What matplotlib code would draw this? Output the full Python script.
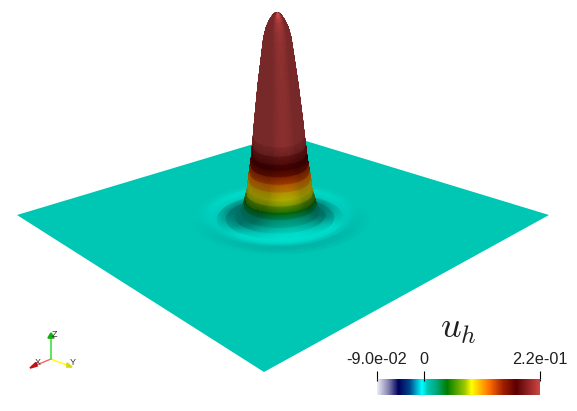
import numpy as np
import matplotlib
matplotlib.use('Agg')
import matplotlib.pyplot as plt
from matplotlib.colors import LinearSegmentedColormap
from matplotlib.patches import Polygon

plt.rcParams['font.family'] = ['Liberation Sans', 'DejaVu Sans']
plt.rcParams['mathtext.fontset'] = 'cm'

W, H = 577, 411

# radial profile (r = fraction of half diagonal)
ring_r = [0.0, 0.007, 0.013, 0.020, 0.028, 0.041, 0.051, 0.060, 0.075, 0.090, 0.096, 0.100, 0.103, 0.105,
          0.109, 0.113, 0.117, 0.120, 0.126, 0.132, 0.139, 0.150, 0.170, 0.205, 0.240, 0.270, 0.300, 0.330]
ring_z = [0.220, 0.2195, 0.2180, 0.2155, 0.2120, 0.204, 0.193, 0.174, 0.142, 0.103, 0.085, 0.075, 0.066, 0.061,
          0.054, 0.046, 0.038, 0.030, 0.024, 0.017, 0.011, 0.004, 0.0, -0.0025, -0.0018, -0.0004, 0.0002, 0.0]
ring_val = [0.22, 0.22, 0.22, 0.22, 0.22, 0.22, 0.22, 0.22, 0.22, 0.22, 0.22, 0.20, 0.18, 0.176,
            0.15, 0.124, 0.103, 0.09, 0.077, 0.043, 0.022, 0.009, 0.006, 0.005, 0.005, 0.0055, 0.006, 0.006]

# colour bar
cbar_min = -0.09
cbar_max = 0.22
cbar_ticks = [-0.09, 0, 0.22]
cbar_labels = ['-9.0e-02', '0', '2.2e-01']
cmap_pos = [0, 0.07, 0.13, 0.2, 0.275, 0.31, 0.36, 0.43, 0.54, 0.58, 0.69, 0.775, 0.857, 1]
cmap_rgb = [(235, 235, 245), (130, 130, 175), (0, 0, 90), (0, 70, 140), (0, 255, 255), (0, 198, 180),
            (0, 170, 130), (0, 125, 0), (160, 200, 0), (255, 255, 0), (255, 110, 0), (160, 30, 0),
            (90, 0, 0), (205, 70, 70)]
cmap = LinearSegmentedColormap.from_list('pv', [(p, tuple(c / 255 for c in rgb)) for p, rgb in zip(cmap_pos, cmap_rgb)], N=256)

# camera: where the plate corners land, plate is the diamond |x|+|y|=1
src = np.array([[-1, 0], [1, 0], [0, 1], [0, -1]], float)
dst = np.array([[17, 215], [549, 215], [264, 372], [285, 134.6]], float)
Z_PX = 918.0
Z_LEAN = -14.0
CX = 0.008
LIGHT = np.array([0.12, 0.55, 0.82])


def homography(s, d):
    A = []
    b = []
    for (x, y), (u, v) in zip(s, d):
        A.append([x, y, 1, 0, 0, 0, -u * x, -u * y])
        A.append([0, 0, 0, x, y, 1, -v * x, -v * y])
        b += [u, v]
    return np.append(np.linalg.solve(np.array(A), np.array(b)), 1).reshape(3, 3)


M = homography(src, dst)


def project(x, y, z):
    w = M[2, 0] * x + M[2, 1] * y + M[2, 2]
    px = (M[0, 0] * x + M[0, 1] * y + M[0, 2]) / w
    py = (M[1, 0] * x + M[1, 1] * y + M[1, 2]) / w
    return px + z * Z_LEAN, py - z * Z_PX


fig = plt.figure(figsize=(W / 100, H / 100), dpi=100)
ax = fig.add_axes([0, 0, 1, 1])
ax.set_xlim(0, W)
ax.set_ylim(H, 0)
ax.axis('off')

xc, yc = project(src[:, 0], src[:, 1], 0)
ax.add_patch(Polygon(np.c_[xc[[0, 3, 1, 2]], yc[[0, 3, 1, 2]]], closed=True, fc=cmap((0.006 - cbar_min) / (cbar_max - cbar_min)), ec='none', zorder=1))

r = np.array(ring_r)
z = np.array(ring_z)
val = np.array(ring_val)
slope = np.gradient(z * 7.5, r)
slope = np.convolve(np.pad(slope, 2, mode='edge'), np.array([1, 2, 3, 2, 1]) / 9, mode='valid')


def surface(theta, zo):
    T, R = np.meshgrid(theta, np.arange(len(r)))
    px, py = project(CX + r[R] * np.cos(T), r[R] * np.sin(T), z[R])
    nx = -slope[R] * np.cos(T)
    ny = -slope[R] * np.sin(T)
    nn = np.sqrt(nx ** 2 + ny ** 2 + 1)
    lam = (nx * LIGHT[0] + ny * LIGHT[1] + LIGHT[2]) / nn
    shade = np.clip(lam / LIGHT[2], 0.01, 1.1) ** 1.3
    shade = np.clip(shade, 0.58, 1.1)
    rgba = cmap((val[R] - cbar_min) / (cbar_max - cbar_min))
    rgba[..., :3] = np.clip(rgba[..., :3] * shade[..., None], 0, 1)
    ax.pcolormesh(px, py, rgba, shading='gouraud', zorder=zo, rasterized=True)


surface(np.linspace(np.pi, 2 * np.pi, 73), 2)
surface(np.linspace(0, np.pi, 73), 3)

# orientation triad
ox, oy = 51, 359
ax.plot([ox, 34], [oy, 366], color='#ff6060', lw=1, zorder=5)
ax.plot([ox, 68], [oy, 365.5], color='#ffff00', lw=1, zorder=5)
ax.plot([ox, 51], [oy, 337], color='#40e040', lw=1.2, zorder=5)
ax.add_patch(Polygon([[30, 368], [36, 362.5], [37, 366]], closed=True, fc='#c81010', ec='#c81010', lw=1.2, zorder=6))
ax.add_patch(Polygon([[72, 367], [67, 363], [67, 367]], closed=True, fc='#d8d810', ec='#d8d810', lw=1.2, zorder=6))
ax.add_patch(Polygon([[51, 333], [48, 338], [54, 338]], closed=True, fc='#10b010', ec='#10b010', lw=1.2, zorder=6))
ax.text(55, 334.5, 'Z', fontsize=6.5, color='#303030', ha='center', va='center', zorder=7)
ax.text(38, 362, 'X', fontsize=6.5, color='#303030', ha='center', va='center', zorder=7)
ax.text(72.5, 362, 'Y', fontsize=6.5, color='#303030', ha='center', va='center', zorder=7)

ax.text(458, 328, r'$u_h$', fontsize=26, ha='center', va='center', color='#202020', zorder=7)

# colour bar through its own axis
cax = fig.add_axes([377 / W, (H - 395) / H, 163 / W, 16 / H])
cax.imshow(np.linspace(0, 1, 256).reshape(1, -1), cmap=cmap, aspect='auto', extent=[cbar_min, cbar_max, 0, 1], vmin=0, vmax=1)
for s in cax.spines.values():
    s.set_visible(False)
cax.set_yticks([])
cax.xaxis.tick_top()
cax.set_xticks(cbar_ticks)
cax.set_xticklabels(cbar_labels, fontsize=11.7, color='#202020')
cax.tick_params(axis='x', direction='out', length=5.8, width=0.8, pad=3.0, color='black')
cax.vlines(cbar_ticks, 0.85, 1, color='black', lw=0.8, clip_on=False)

fig.savefig('out.png', dpi=100)
